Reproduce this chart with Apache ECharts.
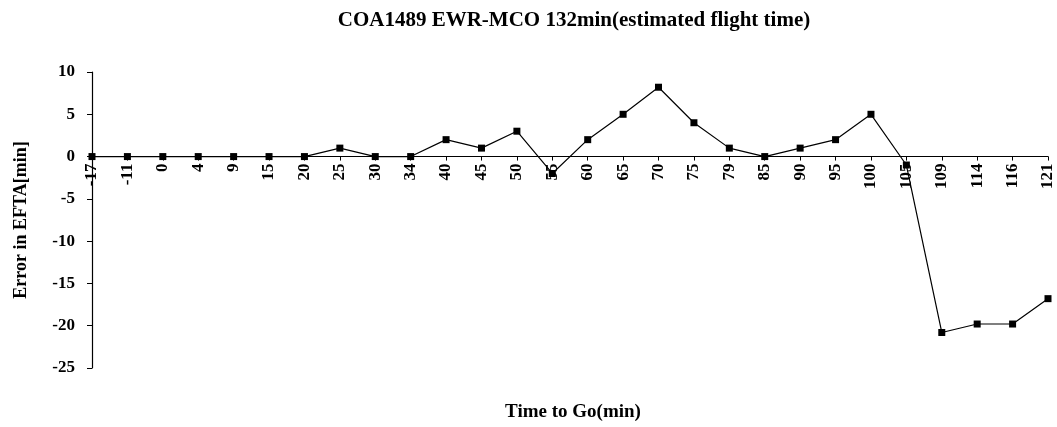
<!DOCTYPE html>
<html>
<head>
<meta charset="utf-8">
<script src="https://cdn.jsdelivr.net/npm/echarts@6/dist/echarts.min.js"></script>
<style>
  html, body { margin: 0; padding: 0; background: #fff; }
  #chart { width: 1057px; height: 427px; }
</style>
</head>
<body>
<div id="chart"></div>
<script>
// time to go (min) - category labels
const timeToGo = ["-17", "-11", "0", "4", "9", "15", "20", "25", "30", "34", "40", "45", "50", "55",
  "60", "65", "70", "75", "79", "85", "90", "95", "100", "105", "109", "114", "116", "121"];
// error in EFTA (min)
const eftaError = [0, 0, 0, 0, 0, 0, 0, 1, 0, 0, 2, 1, 3, -2,
  2, 5, 8.2, 4, 1, 0, 1, 2, 5, -1, -20.8, -19.8, -19.8, -16.8];
const yTicks = { min: -25, max: 10, step: 5 };

const serif = "'Liberation Serif', 'DejaVu Serif', serif";
const myChart = echarts.init(document.getElementById("chart"));

// grid box
const gridTop = 72;
const gridBottom = 59;
const plotH = 427 - gridTop - gridBottom;
// move the x axis (line + labels) up to y = 0
const zeroOffset = -plotH * (0 - yTicks.min) / (yTicks.max - yTicks.min);

const option = {
  animation: false,
  backgroundColor: "#fff",
  title: [
    {
      text: "COA1489 EWR-MCO 132min(estimated flight time)",
      left: 569,
      textAlign: "center",
      top: 5,
      textStyle: {
        fontFamily: serif,
        fontSize: 21,
        fontWeight: "bold",
        color: "#000",
      },
    },
    {
      // x axis title, under the plot
      text: "Time to Go(min)",
      left: 568,
      textAlign: "center",
      top: 398,
      textStyle: {
        fontFamily: serif,
        fontSize: 19,
        fontWeight: "bold",
        color: "#000",
      },
    },
  ],
  grid: {
    left: 92,
    right: 9,
    top: gridTop,
    bottom: gridBottom,
    containLabel: false,
    outerBoundsMode: "none",
  },
  xAxis: {
    type: "category",
    boundaryGap: false, //points start on the y axis
    data: timeToGo,
    offset: zeroOffset,
    axisLine: { onZero: false, lineStyle: { color: "#000", width: 1.2 } },
    axisTick: { show: true, alignWithLabel: true, length: 4, lineStyle: { color: "#000" } },
    axisLabel: {
      rotate: 90,
      interval: 0,
      margin: 7,
      fontFamily: serif,
      fontSize: 17,
      fontWeight: "bold",
      color: "#000",
    },
    splitLine: { show: false },
  },
  yAxis: {
    type: "value",
    min: yTicks.min,
    max: yTicks.max,
    interval: yTicks.step,
    name: "Error in EFTA[min]",
    nameLocation: "middle",
    nameGap: 62,
    nameTextStyle: {
      fontFamily: serif,
      fontSize: 18,
      fontWeight: "bold",
      color: "#000",
    },
    axisLine: { show: true, onZero: false, lineStyle: { color: "#000", width: 1.2 } },
    axisTick: { show: true, length: 5, lineStyle: { color: "#000" } },
    axisLabel: {
      margin: 17,
      fontFamily: serif,
      fontSize: 17,
      fontWeight: "bold",
      color: "#000",
    },
    splitLine: { show: false },
  },
  series: [
    {
      type: "line",
      data: eftaError,
      symbol: "rect",
      symbolSize: 7,
      color: "#000",
      lineStyle: { color: "#000", width: 1.2 },
      itemStyle: { color: "#000" },
    },
  ],
};
myChart.setOption(option);
</script>
</body>
</html>
